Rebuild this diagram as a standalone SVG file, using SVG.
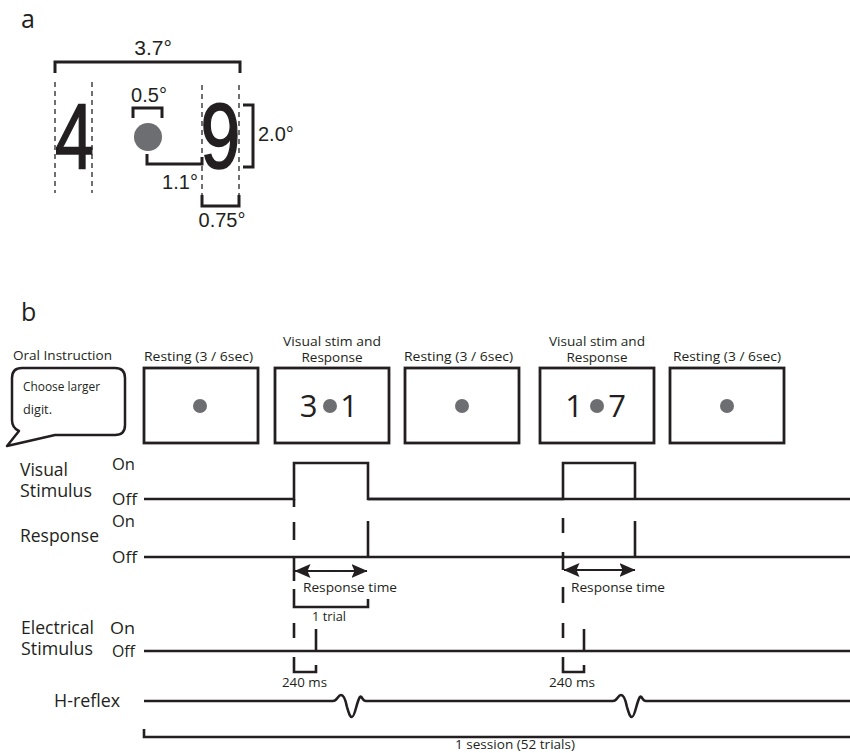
<svg xmlns="http://www.w3.org/2000/svg" width="850" height="753" viewBox="0 0 850 753">
<style>
.bg{fill:#fff}
.hv{font-family:"Liberation Sans",Arial,sans-serif;fill:#231f20}
.my{font-family:"Open Sans","Noto Sans",sans-serif;fill:#231f20}
.big{stroke:#231f20;stroke-width:1.6}
.br{fill:none;stroke:#231f20;stroke-width:3}
.dsh{fill:none;stroke:#4d4d4f;stroke-width:1.6;stroke-dasharray:5 4}
.box{fill:#fff;stroke:#231f20;stroke-width:2.8}
.dot{fill:#6d6e71}
.tr{fill:none;stroke:#231f20;stroke-width:2.6}
.arr{fill:none;stroke:#231f20;stroke-width:2.2}
</style>
<defs>
<marker id="ah" viewBox="0 0 16 14" refX="15.5" refY="7" markerWidth="16" markerHeight="14" markerUnits="userSpaceOnUse" orient="auto-start-reverse">
<path d="M0,0 L16,7 L0,14 L3,7 Z" fill="#231f20"/>
</marker>
</defs>
<rect class="bg" x="0" y="0" width="850" height="753"/>

<!-- Panel a -->
<g id="panel-a">
<text class="my" x="21" y="28" font-size="25">a</text>
<g id="digit-4">
<line class="dsh" x1="55" y1="82" x2="55" y2="193"/>
<line class="dsh" x1="92" y1="82" x2="92" y2="193"/>
<text class="hv big" font-size="92" text-anchor="middle" transform="translate(74.5,168) scale(0.76,1)">4</text>
</g>
<g id="fixation">
<circle class="dot" cx="148" cy="137" r="14"/>
</g>
<g id="digit-9">
<line class="dsh" x1="202" y1="85" x2="202" y2="195"/>
<line class="dsh" x1="239" y1="85" x2="239" y2="195"/>
<text class="hv big" font-size="92" text-anchor="middle" transform="translate(220.5,168) scale(0.78,1)">9</text>
</g>
<g id="dim-37">
<path class="br" d="M55,73 V62 H240 V73"/>
<text class="hv" x="153" y="55" font-size="21" text-anchor="middle">3.7°</text>
</g>
<g id="dim-05">
<path class="br" d="M133,118 V108 H162 V118"/>
<text class="hv" x="149" y="102" font-size="20" text-anchor="middle">0.5°</text>
</g>
<g id="dim-11">
<path class="br" d="M147,154 V164 H202 V157"/>
<text class="hv" x="180" y="189" font-size="20" text-anchor="middle">1.1°</text>
</g>
<g id="dim-20">
<path class="br" d="M243,105 H253 V167 H243"/>
<text class="hv" x="258" y="141" font-size="20">2.0°</text>
</g>
<g id="dim-075">
<path class="br" d="M202,195 V206 H239 V195"/>
<text class="hv" x="222" y="227" font-size="20" text-anchor="middle">0.75°</text>
</g>
</g>

<!-- Panel b -->
<g id="panel-b">
<text class="my" x="21" y="321" font-size="25">b</text>

<g id="oral-instruction">
<text class="my" x="13" y="360" font-size="13.5" textLength="99" lengthAdjust="spacingAndGlyphs">Oral Instruction</text>
<path d="M22,368 H115 Q125,368 125,378 V425 Q125,435 115,435 H55 L7,446 L19,431 Q12,428 12,420 V378 Q12,368 22,368 Z" fill="#fff" stroke="#231f20" stroke-width="2.5" stroke-linejoin="round"/>
<text class="my" x="23" y="391" font-size="12.5" textLength="77" lengthAdjust="spacingAndGlyphs">Choose larger</text>
<text class="my" x="23" y="414" font-size="12.5" textLength="29" lengthAdjust="spacingAndGlyphs">digit.</text>
</g>

<g id="rest-1">
<text class="my" x="144" y="361" font-size="13.5" textLength="109" lengthAdjust="spacingAndGlyphs">Resting (3 / 6sec)</text>
<rect class="box" x="144" y="368" width="114" height="75"/>
<circle class="dot" cx="200" cy="406" r="7"/>
</g>

<g id="stim-1">
<text class="my" x="332" y="346" font-size="13" text-anchor="middle" textLength="98" lengthAdjust="spacingAndGlyphs">Visual stim and</text>
<text class="my" x="332" y="362" font-size="13" text-anchor="middle" textLength="61" lengthAdjust="spacingAndGlyphs">Response</text>
<rect class="box" x="275" y="368" width="114" height="75"/>
<text class="my" x="308.5" y="417" font-size="31" text-anchor="middle">3</text>
<circle class="dot" cx="330" cy="406" r="7"/>
<text class="my" x="349" y="417" font-size="31" text-anchor="middle">1</text>
</g>

<g id="rest-2">
<text class="my" x="404" y="361" font-size="13.5" textLength="109" lengthAdjust="spacingAndGlyphs">Resting (3 / 6sec)</text>
<rect class="box" x="405" y="368" width="114" height="75"/>
<circle class="dot" cx="462" cy="406" r="7"/>
</g>

<g id="stim-2">
<text class="my" x="597" y="346" font-size="13" text-anchor="middle" textLength="96" lengthAdjust="spacingAndGlyphs">Visual stim and</text>
<text class="my" x="597" y="362" font-size="13" text-anchor="middle" textLength="61" lengthAdjust="spacingAndGlyphs">Response</text>
<rect class="box" x="540" y="368" width="114" height="75"/>
<text class="my" x="574" y="417" font-size="31" text-anchor="middle">1</text>
<circle class="dot" cx="597" cy="406" r="7"/>
<text class="my" x="617" y="417" font-size="31" text-anchor="middle">7</text>
</g>

<g id="rest-3">
<text class="my" x="673" y="361" font-size="13.5" textLength="108" lengthAdjust="spacingAndGlyphs">Resting (3 / 6sec)</text>
<rect class="box" x="670" y="368" width="114" height="75"/>
<circle class="dot" cx="727" cy="406" r="7"/>
</g>

<!-- Row labels -->
<g id="labels">
<text class="my" x="20" y="476" font-size="18" textLength="48" lengthAdjust="spacingAndGlyphs">Visual</text>
<text class="my" x="20" y="497" font-size="18" textLength="72" lengthAdjust="spacingAndGlyphs">Stimulus</text>
<text class="my" x="112" y="470" font-size="17" textLength="23" lengthAdjust="spacingAndGlyphs">On</text>
<text class="my" x="112" y="505" font-size="17" textLength="25" lengthAdjust="spacingAndGlyphs">Off</text>

<text class="my" x="20" y="542" font-size="18" textLength="79" lengthAdjust="spacingAndGlyphs">Response</text>
<text class="my" x="112" y="527" font-size="17" textLength="23" lengthAdjust="spacingAndGlyphs">On</text>
<text class="my" x="112" y="563" font-size="17" textLength="25" lengthAdjust="spacingAndGlyphs">Off</text>

<text class="my" x="21" y="634" font-size="18" textLength="73" lengthAdjust="spacingAndGlyphs">Electrical</text>
<text class="my" x="21" y="655" font-size="18" textLength="72" lengthAdjust="spacingAndGlyphs">Stimulus</text>
<text class="my" x="110" y="634" font-size="17" textLength="25" lengthAdjust="spacingAndGlyphs">On</text>
<text class="my" x="112" y="657" font-size="17" textLength="23" lengthAdjust="spacingAndGlyphs">Off</text>

<text class="my" x="54" y="707" font-size="18" textLength="66" lengthAdjust="spacingAndGlyphs">H-reflex</text>
</g>

<!-- Traces and connectors -->
<g id="connectors">
<!-- visual stimulus trace -->
<path class="tr" d="M144,499 H294 V463 H368 V499 H850"/>
<path class="tr" d="M294,499 V507"/>
<path class="tr" d="M368,499 H563 V463 H635 V499"/>
<!-- response trace -->
<path class="tr" d="M144,557 H850"/>
<path class="tr" d="M368,521 V557"/>
<path class="tr" d="M635,521 V557"/>
<!-- electrical trace -->
<path class="tr" d="M144,651 H850"/>
<path class="tr" d="M316,629 V651"/>
<path class="tr" d="M584,629 V651"/>
<!-- H-reflex trace -->
<path class="tr" d="M144,701 H333 C337,701 338,695 341,695 C344,695 346,702 347,707 C349,714 350,717 352,717 C355,717 357,700 360,697 C362,695 362,701 366,701 H613 C617,701 618,695 621,695 C624,695 626,702 627,707 C629,714 630,717 632,717 C635,717 637,700 640,697 C642,695 642,701 646,701 H850"/>

<!-- trial 1 dashed marker -->
<g class="tr">
<line x1="294" y1="522" x2="294" y2="540"/>
<line x1="294" y1="557" x2="294" y2="581"/>
<line x1="294" y1="623" x2="294" y2="638"/>
</g>
<path class="tr" d="M294,589 V607 H368 V599"/>
<path class="tr" d="M294,657 V672 H316 V665"/>
<line class="arr" x1="295" y1="571" x2="367" y2="571" marker-start="url(#ah)" marker-end="url(#ah)"/>

<!-- trial 2 dashed marker -->
<g class="tr">
<line x1="563" y1="518" x2="563" y2="533"/>
<line x1="563" y1="552" x2="563" y2="570"/>
<line x1="563" y1="587" x2="563" y2="603"/>
<line x1="563" y1="623" x2="563" y2="638"/>
</g>
<path class="tr" d="M563,657 V672 H584 V665"/>
<line class="arr" x1="564" y1="570" x2="635" y2="570" marker-start="url(#ah)" marker-end="url(#ah)"/>

<!-- session bracket -->
<path class="tr" d="M144,729 V737 H850"/>
</g>

<g id="timing-labels">
<text class="my" x="303" y="592" font-size="13.5" textLength="94" lengthAdjust="spacingAndGlyphs">Response time</text>
<text class="my" x="312" y="621" font-size="13.5" textLength="34" lengthAdjust="spacingAndGlyphs">1 trial</text>
<text class="my" x="282" y="687" font-size="13.5" textLength="45" lengthAdjust="spacingAndGlyphs">240 ms</text>
<text class="my" x="571" y="592" font-size="13.5" textLength="94" lengthAdjust="spacingAndGlyphs">Response time</text>
<text class="my" x="549" y="687" font-size="13.5" textLength="46" lengthAdjust="spacingAndGlyphs">240 ms</text>
<text class="my" x="455" y="749" font-size="13" textLength="120" lengthAdjust="spacingAndGlyphs">1 session (52 trials)</text>
</g>
</g>
</svg>
